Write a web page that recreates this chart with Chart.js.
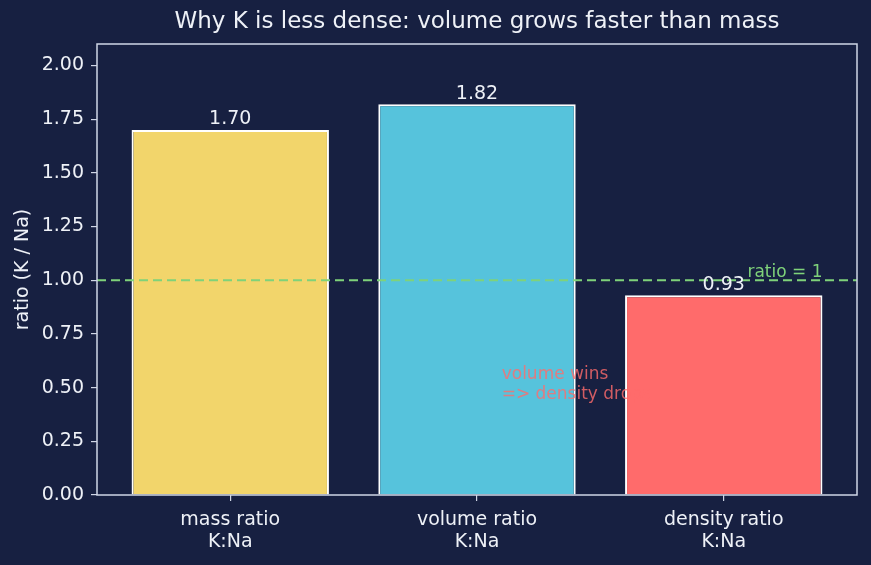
<!DOCTYPE html>
<html>
<head>
<meta charset="utf-8">
<script src="https://cdn.jsdelivr.net/npm/chart.js@4"></script>
<style>
  html, body { margin: 0; padding: 0; background: #172041; }
  #wrap { width: 871px; height: 565px; }
</style>
</head>
<body>
<div id="wrap"><canvas id="ratioChart"></canvas></div>
<script>
const categories = [['mass ratio', 'K:Na'], ['volume ratio', 'K:Na'], ['density ratio', 'K:Na']];
const ratios = [1.70, 1.82, 0.93];
const barColors = ['#f2d56b', '#56c3dc', '#ff6b6b'];
const yTicks = [0, 0.25, 0.5, 0.75, 1.0, 1.25, 1.5, 1.75, 2.0];
const refLine = 1.0;
const refLabel = 'ratio = 1';
const note = ['volume wins', '=> density drops'];
const noteAt = { x: 1.1, y: 0.6 };

const BG = '#172041';
const FG = '#eef1f7';
const FRAME = '#cfd6e6';
const FONT = "'DejaVu Sans', sans-serif";

const extras = {
  id: 'extras',
  beforeDraw(chart) {
    const c = chart.ctx;
    c.save();
    c.fillStyle = BG;
    c.fillRect(0, 0, chart.width, chart.height);
    c.restore();
  },
  afterDatasetsDraw(chart) {
    const c = chart.ctx;
    const xs = chart.scales.x, ys = chart.scales.y;
    const area = chart.chartArea;
    c.save();

    // annotation (same red as density bar, so it vanishes over it)
    c.font = '17px ' + FONT;
    c.fillStyle = 'rgba(255,107,107,0.8)';
    c.textAlign = 'left';
    c.textBaseline = 'top';
    note.forEach((t, i) => c.fillText(t, xs.getPixelForValue(noteAt.x), ys.getPixelForValue(noteAt.y) + i * 20));

    // reference line
    const yy = ys.getPixelForValue(refLine);
    c.strokeStyle = '#7fd27a';
    c.lineWidth = 2;
    c.setLineDash([9, 5]);
    c.beginPath();
    c.moveTo(area.left, yy);
    c.lineTo(area.right, yy);
    c.stroke();
    c.setLineDash([]);
    c.font = '17px ' + FONT;
    c.fillStyle = '#7fd27a';
    c.textAlign = 'right';
    c.textBaseline = 'alphabetic';
    c.fillText(refLabel, xs.getPixelForValue(2.4), ys.getPixelForValue(1.02) + 1);

    // value labels
    c.font = '19px ' + FONT;
    c.fillStyle = FG;
    c.textAlign = 'center';
    c.textBaseline = 'bottom';
    ratios.forEach((v, i) => c.fillText(v.toFixed(2), xs.getPixelForValue(i), ys.getPixelForValue(v) - 1));

    // frame
    c.strokeStyle = FRAME;
    c.lineWidth = 1.5;
    c.strokeRect(area.left, area.top, area.right - area.left, area.bottom - area.top);

    // title
    c.font = '23px ' + FONT;
    c.fillStyle = FG;
    c.textAlign = 'center';
    c.textBaseline = 'middle';
    c.fillText('Why K is less dense: volume grows faster than mass', (area.left + area.right) / 2, 22);
    c.restore();
  }
};

new Chart(document.getElementById('ratioChart').getContext('2d'), {
  type: 'bar',
  data: {
    datasets: [{
      data: ratios.map((v, i) => ({ x: i, y: v })),
      backgroundColor: barColors,
      borderColor: '#ffffff',
      borderWidth: 2,
      barPercentage: 0.8,
      categoryPercentage: 1.0
    }]
  },
  options: {
    responsive: true,
    maintainAspectRatio: false,
    animation: false,
    layout: { padding: { top: 44, right: 14, left: 0, bottom: 0 } },
    plugins: { legend: { display: false }, tooltip: { enabled: false } },
    scales: {
      x: {
        type: 'linear',
        offset: false,
        min: -0.54,
        max: 2.54,
        afterBuildTicks: (s) => { s.ticks = categories.map((_, i) => ({ value: i })); },
        afterFit: (s) => { s.height = 70; },
        ticks: {
          color: FG,
          font: { family: FONT, size: 19, lineHeight: 1.15 },
          padding: 8,
          autoSkip: false,
          maxRotation: 0,
          callback: (v) => categories[v]
        },
        grid: { offset: false, drawOnChartArea: false, tickLength: 6, color: FRAME, lineWidth: 1.2 },
        border: { display: false }
      },
      y: {
        min: 0,
        max: 2.1,
        afterBuildTicks: (s) => { s.ticks = yTicks.map(v => ({ value: v })); },
        afterFit: (s) => { s.width = 97; },
        ticks: {
          color: FG,
          font: { family: FONT, size: 19 },
          padding: 7,
          callback: (v) => Number(v).toFixed(2)
        },
        grid: { drawOnChartArea: false, tickLength: 6, color: FRAME, lineWidth: 1.2 },
        border: { display: false },
        title: {
          display: true,
          text: 'ratio (K / Na)',
          color: FG,
          font: { family: FONT, size: 19 },
          padding: { top: 12, bottom: 0 }
        }
      }
    }
  },
  plugins: [extras]
});
</script>
</body>
</html>
